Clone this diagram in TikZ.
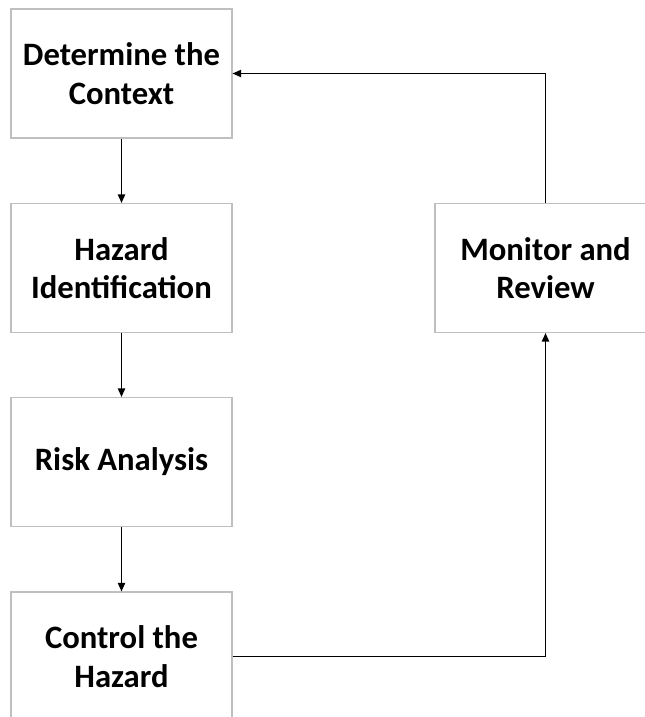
\documentclass[tikz,border=0pt]{standalone}
\usepackage{fontspec}
\setmainfont{Carlito}
\usepackage{tikz}
\usetikzlibrary{positioning,arrows.meta}

\tikzset{
    stage/.style={draw=gray!50, line width=0.8pt, fill=white,
        minimum width=165.75pt, minimum height=96.75pt,
        align=center, font=\fontsize{24.5}{28.8}\selectfont\bfseries},
    flow/.style={line width=1.1pt, black, -{Triangle[length=6.5pt,width=5.5pt]}}
}

\begin{document}
\begin{tikzpicture}[x=0.75pt, y=-0.75pt]
    \useasboundingbox (0,0) rectangle (645,717);
    \clip (0,0) rectangle (645,717);

    \node[stage] (context)  at (121.5, 73.5)  {Determine the\\Context};
    \node[stage] (hazard)   at (121.5, 268)   {Hazard\\Identification};
    \node[stage] (risk)     at (121.5, 462)   {Risk Analysis};
    \node[stage] (control)  at (121.5, 656.5) {Control the\\Hazard};
    \node[stage] (monitor)  at (545.5, 268)   {Monitor and\\Review};

    \draw[flow] (context) -- (hazard);
    \draw[flow] (hazard) -- (risk);
    \draw[flow] (risk) -- (control);
    \draw[flow] (control.east) -| (monitor.south);
    \draw[flow] (monitor.north) |- (context.east);
\end{tikzpicture}
\end{document}
